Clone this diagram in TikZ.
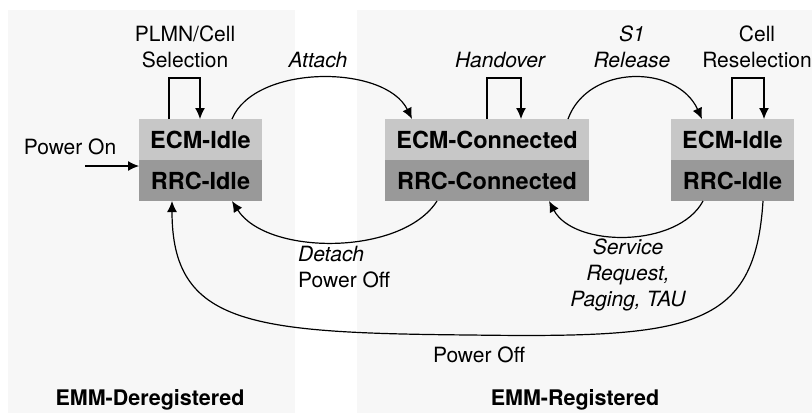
\documentclass[tikz,border=0pt]{standalone}
\usepackage{fontspec}
\setmainfont{TeX Gyre Heros}
\usetikzlibrary{arrows.meta,calc}
\definecolor{panelbg}{HTML}{F7F7F7}
\definecolor{ecmfill}{HTML}{C7C7C7}
\definecolor{rrcfill}{HTML}{999999}
\tikzset{
  lbl/.style={font=\fontsize{21}{26}\selectfont, inner sep=0pt, align=center},
  ilbl/.style={lbl, font=\fontsize{21}{26}\selectfont\itshape},
  region/.style={font=\fontsize{21.5}{26}\selectfont\bfseries, inner sep=0pt},
  half/.style={minimum height=41pt, inner sep=0pt, outer sep=0pt,
    font=\fontsize{23.5}{26}\selectfont\bfseries},
  ecmbox/.style={half, fill=ecmfill},
  rrcbox/.style={half, fill=rrcfill},
  trans/.style={line width=1.2pt, -{Latex[length=11pt,width=10pt]}},
}
\begin{document}
\begin{tikzpicture}[x=1pt,y=-1pt]
\useasboundingbox (0,0) rectangle (812,413);
\fill[white] (0,0) rectangle (812,413);
% the two registration areas
\fill[panelbg] (8,10) rectangle (295,413);
\fill[panelbg] (357,10) rectangle (812,413);

% states: ECM on top, RRC below
\node[ecmbox, minimum width=123pt] (ecm1) at (200.5,139.5) {ECM-Idle};
\node[rrcbox, minimum width=123pt] (rrc1) at (200.5,180.5) {RRC-Idle};
\node[ecmbox, minimum width=204pt] (ecm2) at (487,139.5) {ECM-Connected};
\node[rrcbox, minimum width=204pt] (rrc2) at (487,180.5) {RRC-Connected};
\node[ecmbox, minimum width=123pt] (ecm3) at (732.5,139.5) {ECM-Idle};
\node[rrcbox, minimum width=123pt] (rrc3) at (732.5,180.5) {RRC-Idle};

% self loops
\draw[trans] ($(ecm1.north west)+(30,0)$) -- ++(0,-41) -| ($(ecm1.north west)+(61,0)$);
\draw[trans] ($(ecm2.north west)+(102,0)$) -- ++(0,-41) -| ($(ecm2.north west)+(136,0)$);
\draw[trans] ($(ecm3.north west)+(61,0)$) -- ++(0,-41) -| ($(ecm3.north west)+(93,0)$);

% power on
\coordinate (pon) at (85,166);
\draw[trans] (pon) -- (pon -| rrc1.west);

% transitions between states
\draw[trans] ($(ecm1.north east)+(-30,0)$) .. controls +(23,-55) and +(-27,-55) .. ($(ecm2.north west)+(27,0)$);
\draw[trans] ($(ecm2.north east)+(-21,0)$) .. controls +(20,-55) and +(-25,-55) .. ($(ecm3.north west)+(31,0)$);
\draw[trans] ($(rrc2.south west)+(52,0)$) .. controls +(-35,55) and +(35,55) .. ($(rrc1.south east)+(-30,0)$);
\draw[trans] ($(rrc3.south west)+(32,0)$) .. controls +(-25,47) and +(25,47) .. ($(rrc2.south east)+(-40,0)$);
\coordinate (pbot) at (470,335);
\draw[trans] ($(rrc3.south east)+(-31,0)$) .. controls (755,330) and (690,338) .. (pbot)
  .. controls (250,333) and (172,325) .. ($(rrc1.south west)+(33,0)$);

% labels
\node[lbl] (lplmn) at (185,46.5) {PLMN/Cell\\Selection};
\node[ilbl] (lattach) at (318,60) {Attach};
\node[ilbl] (lho) at (500,60) {Handover};
\node[ilbl] (ls1) at (632,46.5) {S1\\Release};
\node[lbl] (lresel) at (757,46.5) {Cell\\Reselection};
\node[lbl] (lpon) at (70,147) {Power On};
\node[lbl, anchor=west, align=left] (ldetach) at (298,267.5) {\itshape Detach\\Power Off};
\node[ilbl] (lsr) at (628,275) {Service\\Request,\\Paging, TAU};
\node[lbl] (lpoff) at (479,355) {Power Off};
\node[region] (rdereg) at (150,400) {EMM-Deregistered};
\node[region] (rreg) at (575,400) {EMM-Registered};
\end{tikzpicture}
\end{document}
